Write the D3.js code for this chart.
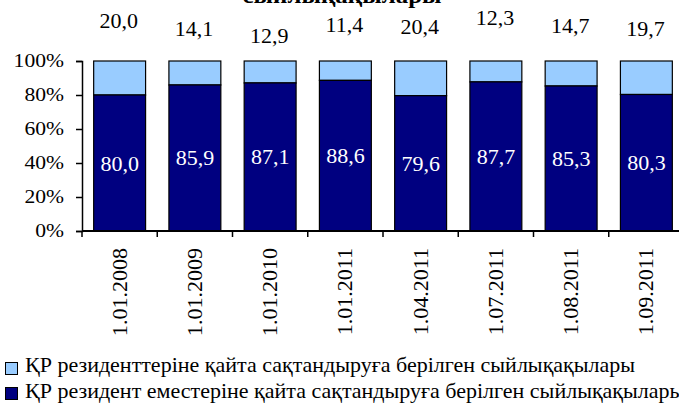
<!DOCTYPE html>
<html lang="kk">
<head>
  <meta charset="UTF-8">
  <title>Сыйлықақылары</title>
  <script src="https://d3js.org/d3.v7.min.js"></script>
  <style>
    body { margin: 0; background: #fff; }
    svg { display: block; }
  </style>
</head>
<body>
<svg id="chart" width="679" height="407"></svg>
<script>
  // data
  const dates = ["1.01.2008", "1.01.2009", "1.01.2010", "1.01.2011",
                 "1.04.2011", "1.07.2011", "1.08.2011", "1.09.2011"];
  const residents = [20.0, 14.1, 12.9, 11.4, 20.4, 12.3, 14.7, 19.7];
  const nonResidents = [80.0, 85.9, 87.1, 88.6, 79.6, 87.7, 85.3, 80.3];
  const yTicks = [0, 20, 40, 60, 80, 100];
  const seriesNames = [
    "ҚР резиденттеріне қайта сақтандыруға берілген сыйлықақылары",
    "ҚР резидент еместеріне қайта сақтандыруға берілген сыйлықақылары"
  ];
  // top labels were dragged by hand in the original, keep their baselines
  const topLabelBase = [28, 36, 43, 32, 34, 25, 33, 36];

  const colors = { res: "#99ccff", non: "#000080" };
  const fmt = v => v.toFixed(1).replace(".", ",");

  const svg = d3.select("#chart");

  const x = d3.scaleBand()
    .domain(dates)
    .range([82, 684])
    .paddingInner(0.31)
    .paddingOuter(0.155);

  const y = d3.scaleLinear().domain([0, 100]).range([231, 61]);

  const rows = dates.map((d, i) => {
    const total = residents[i] + nonResidents[i];
    return { date: d, res: residents[i], non: nonResidents[i],
             nonPct: nonResidents[i] / total * 100 };
  });

  // text helper, sx stretches the glyphs sideways like the source does
  function label(g, tx, ty, str, size, anchor, sx = 1, rot = 0) {
    return g.append("text")
      .attr("transform", `translate(${tx},${ty})` + (rot ? ` rotate(${rot})` : "") + ` scale(${sx},1)`)
      .attr("text-anchor", anchor)
      .style("font-family", "'Liberation Serif'")
      .style("font-size", size + "px")
      .style("fill", "#000")
      .text(str);
  }

  // title (only the bottom of its last line is inside the picture)
  label(svg, 342, 3, "сыйлықақылары", 24, "middle")
    .style("font-weight", "bold")
    .attr("textLength", 199).attr("lengthAdjust", "spacingAndGlyphs");

  // bars
  const bars = svg.append("g");
  rows.forEach(r => {
    const bx = x(r.date), bw = x.bandwidth();
    bars.append("rect")
      .attr("x", bx).attr("y", y(100))
      .attr("width", bw).attr("height", y(r.nonPct) - y(100))
      .attr("fill", colors.res).attr("stroke", "#000").attr("stroke-width", 1.2);
    bars.append("rect")
      .attr("x", bx).attr("y", y(r.nonPct))
      .attr("width", bw).attr("height", y(0) - y(r.nonPct))
      .attr("fill", colors.non).attr("stroke", "#000").attr("stroke-width", 1.2);
  });

  // value labels
  rows.forEach((r, i) => {
    const cx = x(r.date) + x.bandwidth() / 2;
    label(svg, cx, y(r.nonPct / 2) + 7.5, fmt(r.non), 22, "middle").style("fill", "#fff");
    label(svg, cx - 1, topLabelBase[i], fmt(r.res), 22, "middle");
  });

  // y axis
  const yAxis = svg.append("g").attr("transform", "translate(82,0)")
    .call(d3.axisLeft(y).tickValues(yTicks).tickSize(6).tickFormat(""));
  yAxis.select(".domain").attr("stroke-width", 1.5);
  yAxis.selectAll(".tick line").attr("stroke-width", 1.5);
  yTicks.forEach(t => label(svg, 64, y(t) + 6, t + "%", 18, "end", 1.2));

  // x axis
  const xAxis = svg.append("g").attr("transform", "translate(0,231)");
  xAxis.append("line").attr("x1", 82).attr("x2", 684)
    .attr("stroke", "#000").attr("stroke-width", 2);
  const edges = dates.map(d => x(d) - x.step() * x.paddingInner() / 2).concat([684]);
  xAxis.selectAll("line.tk").data(edges).join("line").attr("class", "tk")
    .attr("x1", d => d).attr("x2", d => d).attr("y1", 0).attr("y2", 6)
    .attr("stroke", "#000").attr("stroke-width", 1.5);
  dates.forEach(d => {
    label(svg, x(d) + x.bandwidth() / 2 + 7, 248, d, 21, "end", 1.05, -90);
  });

  // legend
  const legend = svg.append("g");
  [colors.res, colors.non].forEach((c, i) => {
    const ly = 362 + i * 25;
    legend.append("rect").attr("x", 5.5).attr("y", ly + 0.5).attr("width", 12).attr("height", 12)
      .attr("fill", c).attr("stroke", "#000").attr("stroke-width", 1);
    label(legend, 25, 372 + i * 26, seriesNames[i], 22, "start");
  });
</script>
</body>
</html>
